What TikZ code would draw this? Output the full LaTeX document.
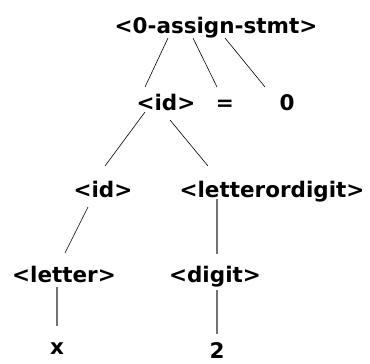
\documentclass[tikz,border=0pt]{standalone}
\usepackage{fontspec}
\setmainfont{DejaVu Sans}
\usetikzlibrary{calc}
\begin{document}
\begin{tikzpicture}[x=1pt,y=-1pt,
  lbl/.style={anchor=base,inner sep=0pt,font=\fontsize{21.5}{24}\selectfont\bfseries},
  edge/.style={draw=black,line width=0.6pt},
  gedge/.style={draw=black!55,line width=1.1pt}]
\useasboundingbox (0,0) rectangle (370,364);
\node[lbl] (root) at (216,33) {<0-assign-stmt>};
\node[lbl] (id1) at (166,110) {<id>};
\node[lbl] (eq) at (225,110) {=};
\node[lbl] (zero) at (287,110) {0};
\node[lbl] (id2) at (103,197) {<id>};
\node[lbl] (lod) at (272,197) {<letterordigit>};
\node[lbl] (letter) at (64,282) {<letter>};
\node[lbl] (digit) at (215,282) {<digit>};
\node[lbl] (x) at (57,354) {x};
\node[lbl] (two) at (217,358) {2};
\draw[edge] ($(root.base)+(-48,5)$) -- ($(id1.base)+(-21,-23)$);
\draw[edge] ($(root.base)+(-23,5)$) -- ($(eq.base)+(-8,-23)$);
\draw[edge] ($(root.base)+(9,5)$) -- ($(zero.base)+(-22,-23)$);
\draw[edge] ($(id1.base)+(-21,2)$) -- ($(id2.base)+(2,-31)$);
\draw[edge] ($(id1.base)+(4,10)$) -- ($(lod.base)+(-64,-31)$);
\draw[edge] ($(id2.base)+(-15,10)$) -- ($(letter.base)+(1,-29)$);
\draw[gedge] ($(lod.base)+(-55,2)$) -- ($(digit.base)+(2,-28)$);
\draw[gedge] ($(letter.base)+(-7,5)$) -- ($(x.base)+(0,-28)$);
\draw[gedge] ($(digit.base)+(2,8)$) -- ($(two.base)+(0,-24)$);
\end{tikzpicture}
\end{document}
